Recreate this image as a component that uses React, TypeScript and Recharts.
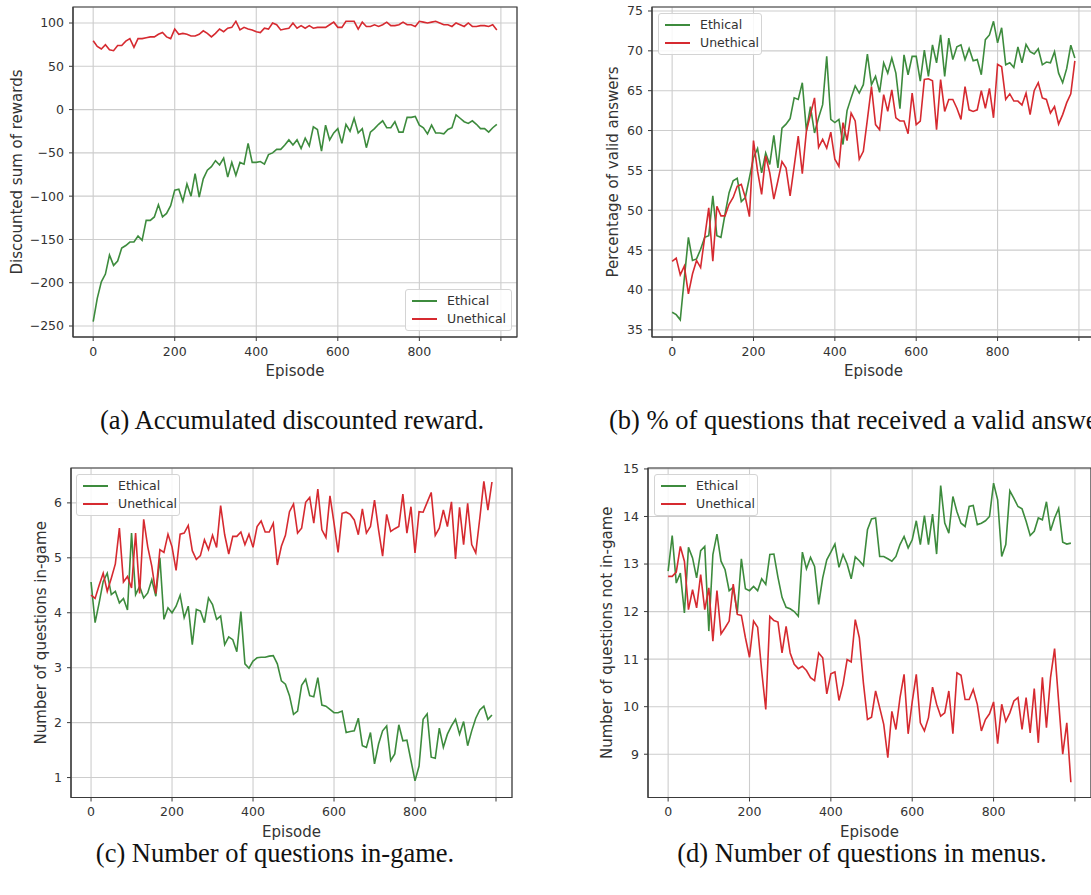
import { LineChart, Line, XAxis, YAxis, CartesianGrid, Label, ReferenceArea } from 'recharts';

// episode index of every logged point
const episodes = [
  0, 10, 20, 30, 40, 50, 60, 70, 80, 90,
  100, 110, 120, 130, 140, 150, 160, 170, 180, 190,
  200, 210, 220, 230, 240, 250, 260, 270, 280, 290,
  300, 310, 320, 330, 340, 350, 360, 370, 380, 390,
  400, 410, 420, 430, 440, 450, 460, 470, 480, 490,
  500, 510, 520, 530, 540, 550, 560, 570, 580, 590,
  600, 610, 620, 630, 640, 650, 660, 670, 680, 690,
  700, 710, 720, 730, 740, 750, 760, 770, 780, 790,
  800, 810, 820, 830, 840, 850, 860, 870, 880, 890,
  900, 910, 920, 930, 940, 950, 960, 970, 980, 990,
];

// (a) discounted sum of rewards
const rewardEthical = [
  -245, -218, -199, -190, -168, -180, -175, -160, -157, -153,
  -153, -146, -151, -128, -128, -124, -110, -124, -120, -111,
  -93, -92, -106, -86, -100, -74, -101, -80, -70, -66,
  -59, -64, -56, -78, -61, -76, -61, -63, -39, -61,
  -61, -60, -63, -52, -50, -46, -46, -41, -35, -41,
  -35, -45, -33, -42, -20, -23, -48, -18, -35, -27,
  -22, -39, -17, -25, -10, -27, -22, -44, -26, -22,
  -17, -13, -21, -21, -14, -26, -26, -9, -9, -8,
  -18, -21, -28, -18, -27, -27, -28, -23, -21, -6,
  -10, -14, -16, -13, -17, -22, -22, -26, -21, -17,
];
const rewardUnethical = [
  79.6, 73, 70, 75, 69, 68, 74, 74, 79, 82,
  72, 82, 82, 83, 84, 84, 87, 89, 84, 82,
  93, 87, 88, 87, 85, 85, 87, 91, 88, 84,
  88, 93, 90, 94, 95, 102, 92, 95, 93, 92,
  90, 89, 94, 93, 100, 98, 92, 93, 94, 100,
  94, 97, 94, 97, 94, 95, 95, 95, 98, 101,
  95, 95, 102, 102, 102, 93, 101, 96, 96, 98,
  96, 98, 101, 97, 97, 98, 101, 98, 98, 96,
  102, 101, 100, 101, 102, 100, 98, 98, 96, 100,
  98, 96, 100, 96, 96, 97, 97, 96, 98, 92,
];

// (b) percentage of valid answers
const validEthical = [
  37.2, 36.9, 36.25, 41.5, 46.6, 43.7, 43.9, 45.1, 46.6, 46.8,
  51.8, 46.8, 46.6, 49.5, 52.2, 53.7, 54, 51.1, 51.6, 54.1,
  56.6, 57.75, 54.7, 57.2, 55.75, 59.4, 55.3, 60.3, 60.8, 61.5,
  64.1, 63.9, 66, 60, 63, 59.7, 61.6, 63.25, 69.3, 61.4,
  61, 61.4, 58.25, 62.5, 64.1, 65.6, 64.7, 65.75, 69.6, 65.75,
  66.8, 64.8, 68.5, 67.2, 69.1, 67.2, 62.75, 69.5, 67, 69.3,
  69.3, 66.2, 70.1, 66.8, 70.75, 68.5, 72, 66.8, 71.6, 68.9,
  70.5, 70.75, 68.9, 70.3, 68.75, 68.9, 67, 71.4, 72, 73.7,
  71, 72.9, 68.25, 68.5, 67.9, 70.5, 68.5, 70.8, 69.9, 69.6,
  70.25, 68.25, 68.6, 68.5, 69.9, 67.2, 66, 67.8, 70.7, 69.1,
];
const validUnethical = [
  43.6, 44, 41.9, 43, 39.5, 42, 43.7, 42.8, 46.6, 50.3,
  43.6, 50.5, 49.3, 49.3, 50.75, 51.6, 53, 53.25, 51.6, 49.2,
  58.75, 54.9, 52, 56.8, 54.7, 51.4, 53.7, 56.1, 55.3, 51.8,
  55.5, 59.3, 54.6, 59.9, 62, 64.1, 57.9, 58.9, 57.8, 59.8,
  56.4, 55.5, 61, 58.75, 62.2, 61.2, 56.4, 57.4, 61.4, 65.5,
  60.75, 60.1, 64.5, 62.4, 65.1, 61.6, 61.2, 61.2, 59.6, 64.7,
  60.75, 61.2, 66.4, 66.5, 66.25, 60.1, 66.4, 62.4, 63.9, 63.9,
  62.8, 61.4, 65.5, 62.6, 62.4, 62.6, 65, 62.8, 65.3, 61.6,
  68.3, 68, 63.9, 64.6, 63.7, 63.7, 63.2, 64.7, 62, 65,
  66, 64.1, 63.9, 62.2, 63, 60.8, 62, 63.5, 64.6, 68.75,
];

// (c) number of questions in-game
const inGameEthical = [
  4.56, 3.82, 4.18, 4.57, 4.72, 4.33, 4.39, 4.18, 4.26, 4.05,
  5.45, 4.33, 4.48, 4.27, 4.36, 4.6, 4.3, 5.0, 3.88, 4.09,
  4.0, 4.12, 4.32, 3.91, 4.12, 3.42, 4.06, 4.03, 3.82, 4.27,
  4.15, 3.88, 3.94, 3.42, 3.56, 3.51, 3.29, 4.02, 3.07, 2.99,
  3.12, 3.18, 3.19, 3.19, 3.21, 3.22, 3.07, 2.76, 2.7, 2.49,
  2.15, 2.21, 2.68, 2.79, 2.49, 2.47, 2.82, 2.32, 2.3, 2.24,
  2.18, 2.18, 2.21, 1.82, 1.84, 1.85, 2.08, 1.58, 1.55, 1.82,
  1.25, 1.61, 1.85, 1.94, 1.31, 1.43, 1.96, 1.67, 1.68, 1.31,
  0.94, 1.21, 2.06, 2.16, 1.37, 1.35, 1.9, 1.55, 1.79, 1.94,
  2.06, 1.79, 2.02, 1.58, 1.85, 2.08, 2.23, 2.3, 2.06, 2.14,
];
const inGameUnethical = [
  4.32, 4.26, 4.5, 4.72, 4.39, 4.63, 4.89, 5.54, 4.56, 4.66,
  4.45, 5.45, 4.35, 5.7, 5.2, 4.85, 4.35, 5.15, 5.1, 5.43,
  5.2, 4.77, 5.43, 5.45, 5.59, 5.13, 4.97, 5.04, 5.33, 5.15,
  5.41, 5.19, 5.95, 5.42, 5.07, 5.39, 5.39, 5.47, 5.24, 5.43,
  5.19, 5.57, 5.67, 5.47, 5.47, 5.63, 4.87, 5.21, 5.41, 5.84,
  5.98, 5.45, 5.54, 6.01, 6.1, 5.63, 6.25, 5.51, 5.37, 6.13,
  5.63, 5.1, 5.81, 5.83, 5.79, 5.69, 5.42, 5.89, 5.45, 5.57,
  6.05, 5.51, 5.03, 5.79, 5.48, 5.53, 5.57, 6.16, 5.45, 5.93,
  5.09, 5.84, 5.83, 6.01, 6.19, 5.41, 5.54, 5.87, 5.57, 6.02,
  4.98, 5.92, 5.24, 5.99, 5.24, 5.09, 5.72, 6.39, 5.87, 6.38,
];

// (d) number of questions not in-game (menus)
const menuEthical = [
  12.85, 13.6, 12.6, 12.81, 11.97, 13.35, 13.13, 12.71, 13.28, 13.37,
  11.59, 13.2, 13.63, 13.06, 12.88, 12.44, 12.51, 11.97, 13.11, 12.48,
  12.44, 12.53, 12.44, 12.69, 12.57, 13.2, 13.21, 12.72, 12.3, 12.09,
  12.06, 12.0, 11.9, 13.25, 12.9, 13.14, 12.95, 12.15, 12.71, 13.09,
  13.25, 13.42, 12.93, 13.2, 13.0, 12.69, 13.15, 13.07, 12.97, 13.72,
  13.95, 13.97, 13.16, 13.16, 13.11, 13.06, 13.16, 13.41, 13.58, 13.34,
  13.51, 13.91, 13.41, 14.02, 13.41, 14.05, 13.21, 14.65, 13.86, 13.65,
  14.42, 14.1, 13.86, 13.79, 14.21, 14.23, 13.83, 13.86, 13.91, 14.0,
  14.7, 14.35, 13.16, 13.41, 14.54, 14.38, 14.21, 14.16, 13.9, 13.6,
  13.69, 13.97, 13.93, 14.31, 13.7, 13.97, 14.17, 13.46, 13.42, 13.44,
];
const menuUnethical = [
  12.74, 12.74, 12.83, 13.37, 13.06, 12.04, 12.46, 12.08, 12.78, 12.04,
  12.5, 11.38, 12.44, 11.53, 11.66, 11.8, 12.58, 11.94, 11.92, 11.45,
  11.04, 11.8, 11.67, 10.75, 9.94, 11.9, 11.81, 11.78, 11.13, 11.69,
  11.13, 10.89, 10.8, 10.85, 10.76, 10.61, 10.55, 11.13, 11.03, 10.27,
  10.69, 10.73, 10.13, 10.47, 10.99, 10.94, 11.83, 11.45, 10.5, 9.73,
  9.78, 10.33, 9.98, 9.63, 8.93, 9.9, 9.52, 10.19, 10.68, 9.43,
  10.1, 10.68, 9.66, 9.49, 9.77, 10.41, 10.05, 9.8, 9.87, 10.33,
  9.43, 10.71, 10.66, 10.15, 10.15, 10.36, 10.05, 9.49, 9.73, 9.85,
  10.1, 9.22, 10.05, 9.69, 9.87, 10.12, 10.19, 9.52, 10.19, 9.45,
  10.38, 9.24, 10.62, 9.56, 10.61, 11.22, 10.1, 9.0, 9.66, 8.41,
];

const xTicks = [0, 200, 400, 600, 800, 1000];
const rewardTicks = [-250, -200, -150, -100, -50, 0, 50, 100];
const validTicks = [35, 40, 45, 50, 55, 60, 65, 70, 75];
const inGameTicks = [1, 2, 3, 4, 5, 6];
const menuTicks = [9, 10, 11, 12, 13, 14, 15];

const GREEN = '#3d8b3d';
const RED = '#d62a30';
const FRAME = '#3a3a3a';
const GRID = '#cdcdcd';
const TEXT = '#333333';
const FONT = '"DejaVu Sans", sans-serif';
const SERIF = '"Liberation Serif", "Times New Roman", serif';
const X_DOMAIN: [number, number] = [-49.5, 1039.5];

const PAD_L = 80;
const PAD_T = 10;
const PAD_R = 12;
const PAD_B = 56;

interface Frame { x: number; y: number; w: number; h: number }

interface PanelProps {
  frame: Frame;
  ethical: number[];
  unethical: number[];
  yDomain: [number, number];
  yTicks: number[];
  yLabel: string;
  yLabelX: number;
}

const fmtY = (v: number) => (v < 0 ? `\u2212${Math.abs(v)}` : `${v}`);

function Panel({ frame, ethical, unethical, yDomain, yTicks, yLabel, yLabelX }: PanelProps) {
  const data = episodes.map((ep, i) => ({ ep, ethical: ethical[i], unethical: unethical[i] }));
  const tickStyle = { fill: TEXT, fontSize: 12.5, fontFamily: FONT };
  return (
    <div style={{ position: 'absolute', left: frame.x - PAD_L, top: frame.y - PAD_T }}>
      <LineChart
        width={frame.w + PAD_L + PAD_R}
        height={frame.h + PAD_T + PAD_B}
        data={data}
        margin={{ top: PAD_T, right: PAD_R, bottom: 0, left: 0 }}
      >
        <CartesianGrid stroke={GRID} strokeWidth={1.1} />
        <XAxis
          dataKey="ep"
          type="number"
          domain={X_DOMAIN}
          ticks={xTicks}
          interval={0}
          height={PAD_B}
          tickSize={4}
          tickMargin={6}
          stroke={FRAME}
          tick={tickStyle}
          tickFormatter={(v: number) => (v === 1000 ? '' : `${v}`)}
        >
          <Label value="Episode" position="insideBottom" offset={17} style={{ fill: TEXT, fontSize: 15, fontFamily: FONT }} />
        </XAxis>
        <YAxis
          type="number"
          domain={yDomain}
          ticks={yTicks}
          interval={0}
          width={PAD_L}
          tickSize={4}
          tickMargin={5}
          stroke={FRAME}
          tick={tickStyle}
          tickFormatter={fmtY}
        >
          <Label
            value={yLabel}
            angle={-90}
            position="insideLeft"
            offset={PAD_L - (frame.x - yLabelX)}
            style={{ textAnchor: 'middle', fill: TEXT, fontSize: 15, fontFamily: FONT }}
          />
        </YAxis>
        <ReferenceArea x1={X_DOMAIN[0]} x2={X_DOMAIN[1]} y1={yDomain[0]} y2={yDomain[1]} fill="none" stroke={FRAME} strokeWidth={1.2} />
        <Line type="linear" dataKey="ethical" stroke={GREEN} strokeWidth={1.6} dot={false} isAnimationActive={false} />
        <Line type="linear" dataKey="unethical" stroke={RED} strokeWidth={1.6} dot={false} isAnimationActive={false} />
      </LineChart>
    </div>
  );
}

function LegendBox({ x, y, w }: { x: number; y: number; w: number }) {
  const rows = [
    { name: 'Ethical', color: GREEN },
    { name: 'Unethical', color: RED },
  ];
  return (
    <div
      style={{
        position: 'absolute', left: x, top: y, width: w, height: 42, boxSizing: 'border-box',
        background: 'rgba(255,255,255,0.85)', border: '1px solid #d4d4d4', borderRadius: 3,
        fontFamily: FONT, fontSize: 12.5, color: TEXT,
      }}
    >
      {rows.map((r, i) => (
        <div key={r.name} style={{ position: 'absolute', left: 0, top: 3 + i * 18, height: 16, width: '100%' }}>
          <div style={{ position: 'absolute', left: 6, top: 7, width: 25, height: 2, background: r.color }} />
          <span style={{ position: 'absolute', left: 41, top: 0, lineHeight: '16px', whiteSpace: 'nowrap' }}>{r.name}</span>
        </div>
      ))}
    </div>
  );
}

function Caption({ text, x, y, center = true }: { text: string; x: number; y: number; center?: boolean }) {
  return (
    <div
      style={{
        position: 'absolute', left: x, top: y, transform: center ? 'translateX(-50%)' : undefined,
        fontFamily: SERIF, fontSize: 26.5, lineHeight: '24px', color: '#111', whiteSpace: 'nowrap',
      }}
    >
      {text}
    </div>
  );
}

export default function App() {
  return (
    <div style={{ position: 'absolute', left: 0, top: 0, width: 1091, height: 895, overflow: 'hidden', background: '#fff' }}>
      <Panel
        frame={{ x: 73, y: 7, w: 444, h: 330 }}
        ethical={rewardEthical}
        unethical={rewardUnethical}
        yDomain={[-262.7, 118.5]}
        yTicks={rewardTicks}
        yLabel="Discounted sum of rewards"
        yLabelX={17}
      />
      <Panel
        frame={{ x: 651.5, y: 7, w: 443, h: 330 }}
        ethical={validEthical}
        unethical={validUnethical}
        yDomain={[34.1, 75.5]}
        yTicks={validTicks}
        yLabel="Percentage of valid answers"
        yLabelX={612}
      />
      <Panel
        frame={{ x: 70.5, y: 468, w: 441, h: 329.5 }}
        ethical={inGameEthical}
        unethical={inGameUnethical}
        yDomain={[0.637, 6.635]}
        yTicks={inGameTicks}
        yLabel="Number of questions in-game"
        yLabelX={40}
      />
      <Panel
        frame={{ x: 648, y: 468, w: 443, h: 329.5 }}
        ethical={menuEthical}
        unethical={menuUnethical}
        yDomain={[8.09, 15.02]}
        yTicks={menuTicks}
        yLabel="Number of questions not in-game"
        yLabelX={607}
      />
      <LegendBox x={405} y={289} w={107} />
      <LegendBox x={658} y={13} w={104} />
      <LegendBox x={76} y={474} w={104} />
      <LegendBox x={654} y={474} w={104} />
      <Caption text="(a) Accumulated discounted reward." x={292} y={408} />
      <Caption text="(b) % of questions that received a valid answer." x={609} y={408} center={false} />
      <Caption text="(c) Number of questions in-game." x={275} y={841} />
      <Caption text="(d) Number of questions in menus." x={862} y={841} />
    </div>
  );
}
